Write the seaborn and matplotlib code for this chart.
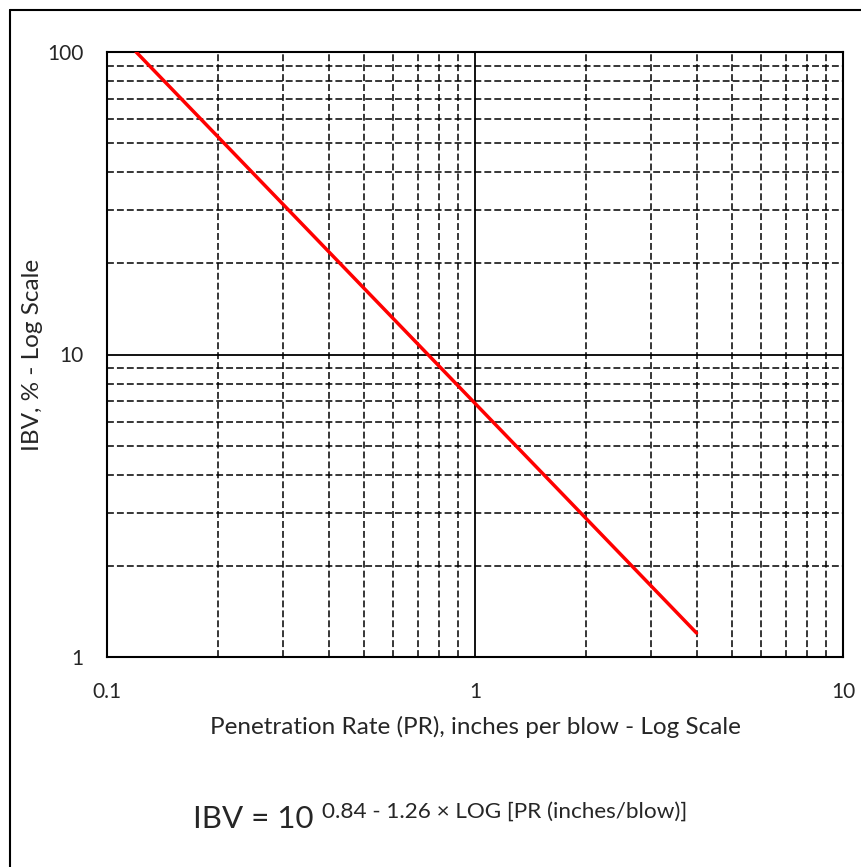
import numpy as np
import pandas as pd
import matplotlib
matplotlib.use("Agg")
import matplotlib.pyplot as plt
import seaborn as sns
from matplotlib.lines import Line2D
from matplotlib.ticker import LogLocator, FixedLocator, NullFormatter

# Data: end points of the straight (log-log) line
pr_values = [0.12, 4.0]      # penetration rate, inches per blow
ibv_values = [100.0, 1.2]    # IBV, %

x_ticks = [0.1, 1, 10]
x_tick_labels = ["0.1", "1", "10"]
y_ticks = [1, 10, 100]
y_tick_labels = ["1", "10", "100"]

df = pd.DataFrame({"PR": pr_values, "IBV": ibv_values})

sns.set_theme(style="white")
plt.rcParams["font.family"] = ["Lato", "DejaVu Sans"]

W, H = 861, 867
fig = plt.figure(figsize=(W / 100, H / 100), dpi=100)
ax = fig.add_axes([107 / W, 1 - 657 / H, (843 - 107) / W, (657 - 52) / H])

sns.lineplot(data=df, x="PR", y="IBV", ax=ax, color="#ff0000", linewidth=2.5, zorder=5)

ax.set_xscale("log")
ax.set_yscale("log")
ax.set_xlim(0.1, 10)
ax.set_ylim(1, 100)

ax.xaxis.set_major_locator(FixedLocator(x_ticks))
ax.set_xticklabels(x_tick_labels)
ax.yaxis.set_major_locator(FixedLocator(y_ticks))
ax.set_yticklabels(y_tick_labels)
ax.xaxis.set_minor_locator(LogLocator(base=10, subs=np.arange(2, 10)))
ax.yaxis.set_minor_locator(LogLocator(base=10, subs=np.arange(2, 10)))
ax.xaxis.set_minor_formatter(NullFormatter())
ax.yaxis.set_minor_formatter(NullFormatter())

ax.grid(True, which="major", color="black", linewidth=1.3, linestyle="-")
ax.grid(True, which="minor", color="black", linewidth=1.1, linestyle=(0, (4.5, 2)))
ax.tick_params(which="both", length=0)
ax.tick_params(axis="x", pad=18, labelsize=15)
ax.tick_params(axis="y", pad=17, labelsize=15)

for s in ax.spines.values():
    s.set_visible(True)
    s.set_color("black")
    s.set_linewidth(1.5)

ax.set_xlabel("Penetration Rate (PR), inches per blow - Log Scale", fontsize=17.5, va="center")
ax.set_ylabel("IBV, % - Log Scale", fontsize=17.5, va="center")
ax.xaxis.set_label_coords(0.5, -(727 - 657) / 605)
ax.yaxis.set_label_coords(-(107 - 33) / 736, 0.5)
ax.set_facecolor("white")

# equation below the chart
fig.text(193 / W, 1 - 828 / H, "IBV = 10", fontsize=22.5, va="baseline", ha="left")
fig.text(322 / W, 1 - 818 / H, "0.84 - 1.26 × LOG [PR (inches/blow)]",
         fontsize=16.2, va="baseline", ha="left")

# outer chart border (only left and top are visible in the image)
fig.add_artist(Line2D([10 / W, 10 / W], [0, 1 - 10 / H], transform=fig.transFigure,
                      color="black", linewidth=1.5))
fig.add_artist(Line2D([10 / W, 1], [1 - 10 / H, 1 - 10 / H], transform=fig.transFigure,
                      color="black", linewidth=1.5))

fig.savefig("out.png", dpi=100, facecolor="white")
